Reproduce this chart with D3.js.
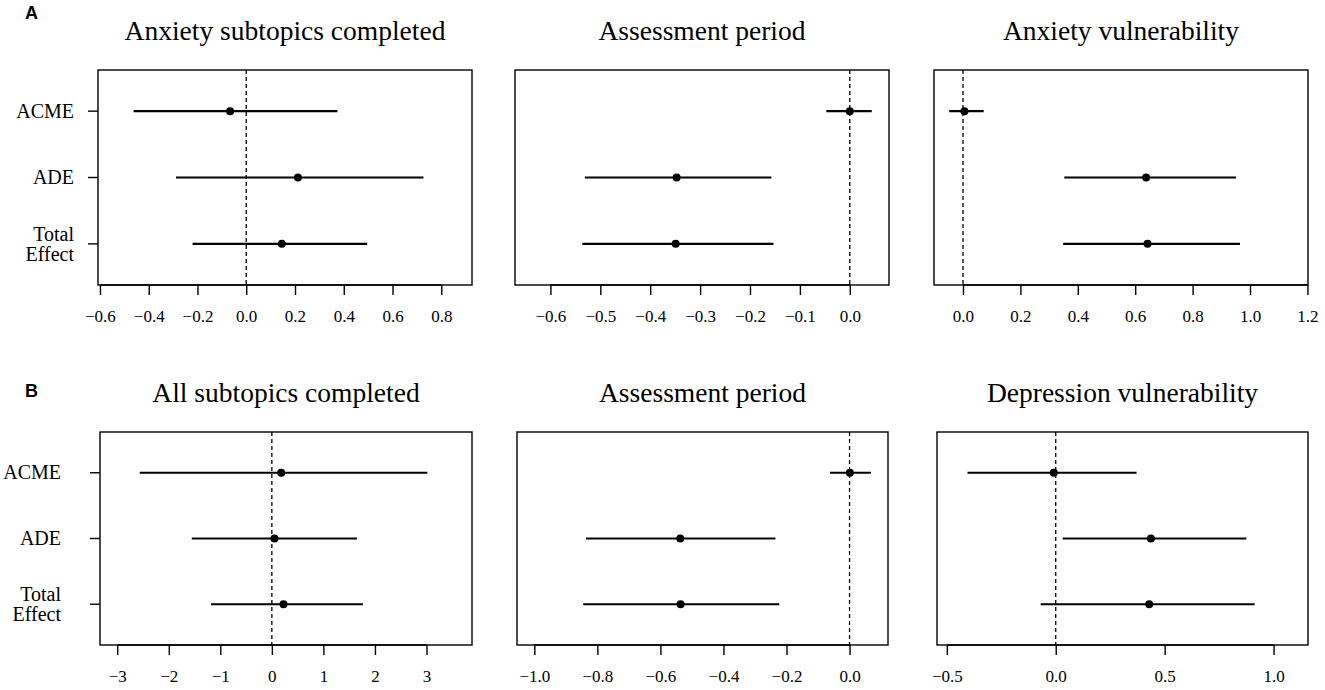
<!DOCTYPE html>
<html>
<head>
<meta charset="utf-8">
<script src="https://cdn.jsdelivr.net/npm/d3@7"></script>
<style>
  html, body { margin: 0; padding: 0; background: #fff; }
  svg { display: block; }
  text { font-family: "Liberation Serif", "Times New Roman", serif; fill: #000; }
</style>
</head>
<body>
<svg id="chart" width="1325" height="690"></svg>
<script>
// ---------- data ----------
const rowLabels = ["ACME", "ADE", "Total Effect"];
const panelLetters = ["A", "B"];
const panelTitles = [
  "Anxiety subtopics completed", "Assessment period", "Anxiety vulnerability",
  "All subtopics completed", "Assessment period", "Depression vulnerability"
];
// point estimates (ACME, ADE, Total Effect)
const estimates = [
  [-0.066, 0.212, 0.146],
  [0.000, -0.347, -0.349],
  [0.005, 0.638, 0.643],
  [0.181, 0.050, 0.226],
  [0.001, -0.537, -0.536],
  [-0.009, 0.437, 0.429]
];
const lowerCI = [
  [-0.462, -0.288, -0.220],
  [-0.047, -0.531, -0.536],
  [-0.048, 0.353, 0.349],
  [-2.563, -1.553, -1.179],
  [-0.062, -0.836, -0.845],
  [-0.405, 0.032, -0.069]
];
const upperCI = [
  [0.374, 0.727, 0.496],
  [0.044, -0.157, -0.153],
  [0.072, 0.951, 0.965],
  [3.016, 1.650, 1.767],
  [0.068, -0.235, -0.223],
  [0.371, 0.875, 0.913]
];
// x-axis limits
const xLimits = [
  [-0.608, 0.926],
  [-0.671, 0.0786],
  [-0.101, 1.202],
  [-3.334, 3.883],
  [-1.055, 0.122],
  [-0.545, 1.158]
];
// tick values
const tickValues = [
  [-0.6, -0.4, -0.2, 0.0, 0.2, 0.4, 0.6, 0.8],
  [-0.6, -0.5, -0.4, -0.3, -0.2, -0.1, 0.0],
  [0.0, 0.2, 0.4, 0.6, 0.8, 1.0, 1.2],
  [-3, -2, -1, 0, 1, 2, 3],
  [-1.0, -0.8, -0.6, -0.4, -0.2, 0.0],
  [-0.5, 0.0, 0.5, 1.0]
];
const tickFormats = [".1f", ".1f", ".1f", "d", ".1f", ".1f"];

// ---------- layout ----------
const rowTop = [70, 432];
const rowBottom = [285, 645];
const colLeft = [[98, 515, 934], [100, 517, 937]];
const colRight = [[472, 889, 1308], [472, 888, 1308]];
const labelRight = [74, 61];
const serif = "'Liberation Serif', 'Times New Roman', serif";

const svg = d3.select("#chart");

for (let r = 0; r < 2; r++) {
  // panel letter
  svg.append("text")
    .attr("x", 25).attr("y", r === 0 ? 19 : 397)
    .style("font-family", "'Liberation Sans', Arial, sans-serif")
    .style("font-weight", "bold").style("font-size", "18px")
    .text(panelLetters[r]);

  for (let c = 0; c < 3; c++) {
    const i = r * 3 + c;
    const x0 = colLeft[r][c], x1 = colRight[r][c];
    const y0 = rowTop[r], y1 = rowBottom[r];

    const x = d3.scaleLinear().domain(xLimits[i]).range([x0, x1]);
    const y = d3.scalePoint().domain(rowLabels).range([y0, y1]).padding(0.62);

    const g = svg.append("g");

    // title
    g.append("text")
      .attr("x", (x0 + x1) / 2).attr("y", y0 - 30)
      .attr("text-anchor", "middle")
      .style("font-size", "27.5px")
      .text(panelTitles[i]);

    // x axis
    const ax = g.append("g")
      .attr("transform", `translate(0,${y1})`)
      .call(d3.axisBottom(x).tickValues(tickValues[i])
        .tickFormat(d3.format(tickFormats[i])).tickSize(10).tickPadding(8))
      .attr("font-family", serif)
      .attr("font-size", 17)
      .call(s => s.select(".domain").remove());
    ax.selectAll("line").attr("stroke", "#000").attr("stroke-width", 1.4);
    ax.selectAll("text")
      .attr("font-family", serif)
      .style("font-family", serif)
      .style("font-size", "17px").attr("fill", "#000")
      .attr("dy", null).attr("y", 36.7);
    // axis baseline from first to last tick
    const tv = tickValues[i];
    g.append("line")
      .attr("x1", x(tv[0])).attr("x2", x(tv[tv.length - 1]))
      .attr("y1", y1).attr("y2", y1)
      .attr("stroke", "#000").attr("stroke-width", 1.4);

    // zero reference line
    g.append("line")
      .attr("x1", x(0)).attr("x2", x(0))
      .attr("y1", y0).attr("y2", y1)
      .attr("stroke", "#000").attr("stroke-width", 1.3)
      .attr("stroke-dasharray", "4,3");

    // y axis ticks and labels (first column only)
    if (c === 0) {
      rowLabels.forEach(lab => {
        const yy = y(lab);
        g.append("line")
          .attr("x1", x0 - 10).attr("x2", x0)
          .attr("y1", yy).attr("y2", yy)
          .attr("stroke", "#000").attr("stroke-width", 1.4);
        const words = lab.split(" ");
        const t = g.append("text")
          .attr("text-anchor", "end")
          .style("font-size", "20px");
        if (words.length === 1) {
          t.attr("x", labelRight[r]).attr("y", yy + 6.6).text(lab);
        } else {
          words.forEach((w, k) => {
            t.append("tspan")
              .attr("x", labelRight[r])
              .attr("y", yy - 3 + k * 20)
              .text(w);
          });
        }
      });
    }

    // confidence intervals
    g.selectAll("line.ci")
      .data(rowLabels)
      .join("line")
      .attr("class", "ci")
      .attr("x1", (d, k) => x(lowerCI[i][k]))
      .attr("x2", (d, k) => x(upperCI[i][k]))
      .attr("y1", d => y(d)).attr("y2", d => y(d))
      .attr("stroke", "#000").attr("stroke-width", 2.2);

    // point estimates
    g.selectAll("circle.pt")
      .data(rowLabels)
      .join("circle")
      .attr("class", "pt")
      .attr("cx", (d, k) => x(estimates[i][k]))
      .attr("cy", d => y(d))
      .attr("r", 4)
      .attr("fill", "#000");

    // frame
    g.append("rect")
      .attr("x", x0).attr("y", y0)
      .attr("width", x1 - x0).attr("height", y1 - y0)
      .attr("fill", "none").attr("stroke", "#000").attr("stroke-width", 1.4);
  }
}
</script>
</body>
</html>
